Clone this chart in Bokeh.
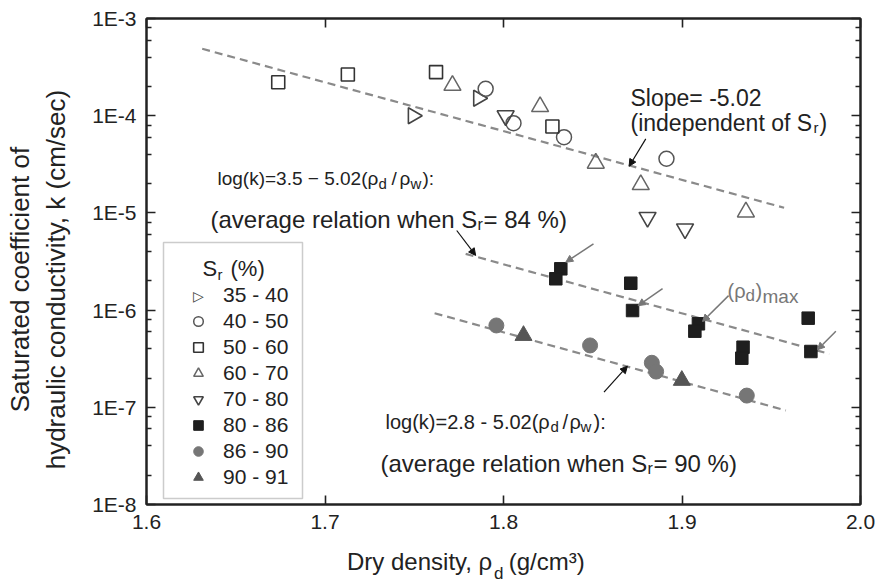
import math
import json
from bokeh.plotting import figure
from bokeh.models import (FixedTicker, LinearAxis, LogAxis, Range1d, Label, Arrow, NormalHead,
                          Legend, LegendItem, CustomJSTickFormatter, BoxAnnotation)
from bokeh.embed import file_html
from bokeh.resources import INLINE

# ---------------- data ----------------
x_ticks = [1.6, 1.7, 1.8, 1.9, 2.0]
y_ticks = [1e-8, 1e-7, 1e-6, 1e-5, 1e-4, 1e-3]
y_minor = [m * 10.0 ** e for e in range(-8, -3) for m in (2, 4, 6, 8)]

sr_35_40_x = [1.7493, 1.7859]
sr_35_40_k = [1.00e-4, 1.51e-4]
sr_40_50_x = [1.7900, 1.8056, 1.8339, 1.8913]
sr_40_50_k = [1.89e-4, 8.38e-5, 6.01e-5, 3.61e-5]
sr_50_60_x = [1.6738, 1.7128, 1.7622, 1.8274]
sr_50_60_k = [2.21e-4, 2.65e-4, 2.81e-4, 7.75e-5]
sr_60_70_x = [1.7714, 1.8205, 1.8517, 1.8769, 1.9358]
sr_60_70_k = [2.05e-4, 1.24e-4, 3.24e-5, 1.95e-5, 1.02e-5]
sr_70_80_x = [1.8012, 1.8807, 1.9017]
sr_70_80_k = [1.00e-4, 9.0e-6, 6.85e-6]
sr_80_86_x = [1.8321, 1.8293, 1.8713, 1.8723, 1.9092, 1.9072, 1.9342, 1.9335, 1.9707, 1.9722]
sr_80_86_k = [2.66e-6, 2.10e-6, 1.89e-6, 9.9e-7, 7.23e-7, 6.07e-7, 4.15e-7, 3.2e-7, 8.26e-7, 3.75e-7]
sr_86_90_x = [1.7960, 1.8485, 1.8831, 1.8855, 1.9363]
sr_86_90_k = [6.95e-7, 4.33e-7, 2.87e-7, 2.33e-7, 1.32e-7]
sr_90_91_x = [1.8112, 1.8999]
sr_90_91_k = [5.48e-7, 1.89e-7]

fit_all_x = [1.6312, 1.9572]
fit_all_k = [4.88e-4, 1.13e-5]
fit_84_x = [1.7788, 1.9825]
fit_84_k = [3.79e-6, 3.55e-7]
fit_90_x = [1.7614, 1.9582]
fit_90_k = [9.29e-7, 9.27e-8]

legend_labels = ["35 - 40", "40 - 50", "50 - 60", "60 - 70", "70 - 80", "80 - 86", "86 - 90", "90 - 91"]

FONT = "Liberation Sans"
INK = "#222222"

p = figure(width=877, height=588, x_range=Range1d(1.6, 2.0), y_range=Range1d(1e-8, 1e-3),
           y_axis_type="log", output_backend="svg", toolbar_location=None,
           min_border_left=146, min_border_right=17, min_border_top=18, min_border_bottom=84)
p.grid.visible = False
p.outline_line_color = INK
p.outline_line_width = 2
p.background_fill_color = "white"
p.border_fill_color = "white"

xt = FixedTicker(ticks=x_ticks, minor_ticks=[])
yt = FixedTicker(ticks=y_ticks, minor_ticks=y_minor)


def style(ax):
    ax.axis_line_color = INK
    ax.axis_line_width = 2
    ax.major_tick_in = 9
    ax.major_tick_out = 0
    ax.minor_tick_in = 5
    ax.minor_tick_out = 0
    ax.major_tick_line_color = INK
    ax.major_tick_line_width = 1.6
    ax.minor_tick_line_color = INK
    ax.minor_tick_line_width = 1.4
    ax.major_label_text_font = FONT
    ax.major_label_text_font_size = "21px"
    ax.major_label_text_color = INK
    ax.major_label_standoff = 10


p.xaxis.ticker = xt
p.xaxis.formatter = CustomJSTickFormatter(code="return tick.toFixed(1);")
p.yaxis.ticker = yt
p.yaxis.formatter = CustomJSTickFormatter(code="return '1E' + Math.round(Math.log10(tick));")
style(p.xaxis[0])
style(p.yaxis[0])

# y-axis title (two lines); trailing no-break spaces nudge it slightly below the frame centre
pad = "\u00a0" * 5
p.yaxis.axis_label = "Saturated coefficient of" + pad + "\nhydraulic conductivity, k (cm/sec)" + pad
p.yaxis.axis_label_text_font = FONT
p.yaxis.axis_label_text_font_size = "26px"
p.yaxis.axis_label_text_font_style = "normal"
p.yaxis.axis_label_text_color = INK
p.yaxis.axis_label_standoff = 18

blank = CustomJSTickFormatter(code="return '';")
top = LinearAxis(ticker=xt, formatter=blank)
right = LogAxis(ticker=yt, formatter=blank)
for ax in (top, right):
    style(ax)
    ax.major_label_standoff = 0
    ax.major_label_text_font_size = "1px"
p.add_layout(top, "above")
p.add_layout(right, "right")


# x-axis title built from label-only axes (pieces with a subscript)
def text_axis(ticks, texts, size, standoff):
    ax = LinearAxis(ticker=FixedTicker(ticks=ticks, minor_ticks=[]),
                    formatter=CustomJSTickFormatter(code="return %s[index];" % json.dumps(texts)),
                    axis_line_color=None, major_tick_line_color=None, minor_tick_line_color=None,
                    major_tick_in=0, major_tick_out=0, minor_tick_in=0, minor_tick_out=0,
                    major_label_standoff=standoff, major_label_text_font=FONT,
                    major_label_text_font_size=f"{size}px", major_label_text_color=INK)
    p.add_layout(ax, "below")


text_axis([1.75303, 1.82422], ["Dry density, \u03c1", "(g/cm\u00b3)"], 24, 16)
text_axis([1.79731], ["d"], 17, -14)

# fitted lines
for fx, fk in ((fit_all_x, fit_all_k), (fit_84_x, fit_84_k), (fit_90_x, fit_90_k)):
    p.line(fx, fk, line_color="#8a8a8a", line_width=2.2, line_dash="8 5")

# markers
r1 = p.scatter(sr_35_40_x, sr_35_40_k, marker="triangle", angle=-math.pi / 2, size=16,
               fill_color=None, line_color="#444444", line_width=1.6)
r2 = p.scatter(sr_40_50_x, sr_40_50_k, marker="circle", size=15,
               fill_color=None, line_color="#555555", line_width=1.5)
r3 = p.scatter(sr_50_60_x, sr_50_60_k, marker="square", size=13,
               fill_color=None, line_color="#333333", line_width=1.6)
r4 = p.scatter(sr_60_70_x, sr_60_70_k, marker="triangle", size=17,
               fill_color=None, line_color="#666666", line_width=1.5)
r5 = p.scatter(sr_70_80_x, sr_70_80_k, marker="inverted_triangle", size=17,
               fill_color=None, line_color="#444444", line_width=1.6)
r6 = p.scatter(sr_80_86_x, sr_80_86_k, marker="square", size=12.5,
               fill_color="#1e1e1e", line_color="#1e1e1e")
r7 = p.scatter(sr_86_90_x, sr_86_90_k, marker="circle", size=15,
               fill_color="#767676", line_color="#767676")
r8 = p.scatter(sr_90_91_x, sr_90_91_k, marker="triangle", size=17,
               fill_color="#555555", line_color="#555555")
# legend swatch holder for the right-pointing triangle (legends ignore marker angle)
r1_key = p.scatter([], [], marker="triangle", fill_alpha=0, line_alpha=0)

# legend
legend = Legend(items=[LegendItem(label=t, renderers=[r]) for t, r in
                       zip(legend_labels, [r1_key, r2, r3, r4, r5, r6, r7, r8])],
                location=(40, 15), padding=0, margin=0, spacing=2,
                glyph_width=24, glyph_height=24, label_height=24, label_standoff=13,
                label_text_font=FONT, label_text_font_size="21px", label_text_color=INK,
                border_line_alpha=0, background_fill_alpha=0)
p.add_layout(legend)
p.add_layout(BoxAnnotation(left=17, right=156, bottom=6, top=262,
                           left_units="screen", right_units="screen",
                           bottom_units="screen", top_units="screen",
                           fill_alpha=0, line_color="#555555", line_width=1.5))


# arrows (data coordinates)
def arrow(x0, y0, x1, y1, color, width):
    p.add_layout(Arrow(x_start=x0, y_start=y0, x_end=x1, y_end=y1, line_color=color,
                       line_width=width,
                       end=NormalHead(size=7, fill_color=color, line_color=color, line_width=1)))


arrow(1.8797, 5.78e-5, 1.8704, 3.02e-5, "#111111", 1.2)
arrow(1.7738, 6.59e-6, 1.7844, 3.65e-6, "#111111", 1.2)
arrow(1.8563, 1.43e-7, 1.8694, 2.65e-7, "#111111", 1.2)
arrow(1.8504, 4.81e-6, 1.8349, 3.11e-6, "#777777", 1.5)
arrow(1.8891, 1.66e-6, 1.8754, 1.11e-6, "#777777", 1.5)
arrow(1.9261, 1.41e-6, 1.9115, 7.64e-7, "#777777", 1.5)
arrow(1.9862, 6.07e-7, 1.9759, 3.91e-7, "#777777", 1.5)

# texts inside the frame (screen offsets relative to the frame's lower-left corner)
FL, FB = 146, 504


def put(text, px, py, size, color=INK, align="left", baseline="alphabetic", font=FONT):
    p.add_layout(Label(x=px - FL, y=FB - py, x_units="screen", y_units="screen", text=text,
                       text_font=font, text_font_size=f"{size}px", text_color=color,
                       text_baseline=baseline, text_align=align))


put("Slope= -5.02", 630, 97, 23)
put("(independent of S", 630, 122, 23)
put("r", 813, 127, 15)
put(")", 819, 122, 23)

put("log(k)=3.5 \u2212 5.02(\u03c1", 217, 178, 19)
put("d", 378, 183, 15)
put("/", 391, 178, 19)
put("\u03c1", 399, 178, 19)
put("w", 410, 183, 15)
put("):", 422, 178, 19)
put("(average relation when S", 210, 219, 24)
put("r", 477, 224, 16)
put("= 84 %)", 483, 219, 24)

put("log(k)=2.8 - 5.02(\u03c1", 385, 421, 20)
put("d", 550, 426, 15)
put("/", 562, 421, 20)
put("\u03c1", 569, 421, 20)
put("w", 580, 426, 15)
put("):", 593, 421, 20)
put("(average relation when S", 380, 463, 24)
put("r", 647, 468, 16)
put("= 90 %)", 653, 463, 24)

put("(\u03c1", 727, 290, 20, "#777777")
put("d", 745, 295, 17, "#777777")
put(")", 755, 290, 20, "#777777")
put("max", 762, 296, 19, "#777777")

put("S", 202, 268, 22)
put("r", 217, 274, 15)
put("(%)", 230, 268, 22)
put("\u25b7", 198, 295, 14, "#444444", align="center", baseline="middle", font="DejaVu Sans")

open("out.html", "w").write(file_html(p, INLINE))
